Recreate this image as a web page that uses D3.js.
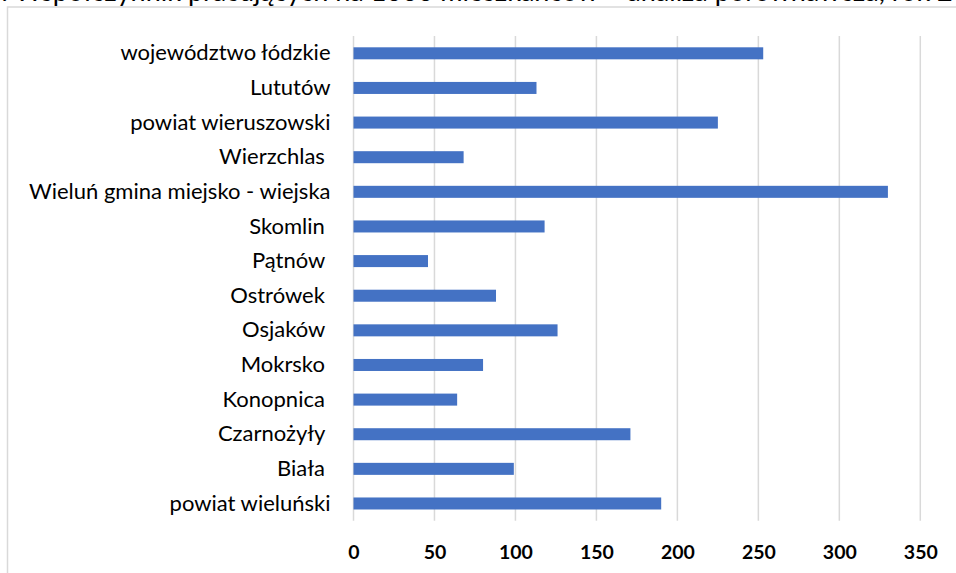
<!DOCTYPE html>
<html>
<head>
<meta charset="utf-8">
<script src="https://cdn.jsdelivr.net/npm/d3@7"></script>
<style>
  body { margin: 0; background: #fff; overflow: hidden; }
  text { font-family: Lato, "Open Sans", sans-serif; white-space: pre; }
</style>
</head>
<body>
<div class="chart"></div>
<script>
// categories top to bottom, trailing spaces kept as in the source
var categories = ["województwo łódzkie", "Lututów", "powiat wieruszowski", "Wierzchlas ",
  "Wieluń gmina miejsko - wiejska", "Skomlin ", "Pątnów ", "Ostrówek ", "Osjaków ",
  "Mokrsko ", "Konopnica ", "Czarnożyły ", "Biała ", "powiat wieluński"];
var values = [253, 113, 225, 68, 330, 118, 46, 88, 126, 80, 64, 171, 99, 190];
var ticks = [0, 50, 100, 150, 200, 250, 300, 350];
var titlePre = "Wykres 3: ";
var titleMain = "Współczynnik pracujących na 1000 mieszkańców – analiza porównawcza, rok 2019";

var w = 956, h = 573;

var svg = d3.select(".chart").append("svg")
            .attr("width", w)
            .attr("height", h);

// chart frame (runs off the right/bottom edge like the cropped original)
svg.append("rect")
   .attr("x", 7.5).attr("y", 7)
   .attr("width", 1000).attr("height", 1000)
   .attr("fill", "none")
   .attr("stroke", "#d9d9d9")
   .attr("stroke-width", 1.5);

// title, mostly cut off at the top of the picture
// size it so "Współczynnik" starts at ~15 and "rok" at ~893
var probe = svg.append("text").attr("font-size", 20).text("Współczynnik pracujących na 1000 mieszkańców – analiza porównawcza, ");
var spanW = probe.node().getComputedTextLength();
probe.text(titlePre);
var preW = probe.node().getComputedTextLength();
probe.remove();
var tSize = 20 * 878 / spanW;
svg.append("text")
   .attr("x", 15 - preW * tSize / 20)
   .attr("y", 0.5)
   .attr("font-size", tSize)
   .attr("fill", "#000")
   .text(titlePre + titleMain);

var x = d3.scaleLinear().domain([0, 350]).range([353.5, 920.3]);
var y = d3.scaleBand().domain(categories).range([36, 520.8]).paddingInner(0.653).paddingOuter(0.3265);

// gridlines
svg.append("g")
   .selectAll("line")
   .data(ticks)
   .join("line")
   .attr("x1", function(d){ return x(d); })
   .attr("x2", function(d){ return x(d); })
   .attr("y1", 36)
   .attr("y2", 520.8)
   .attr("stroke", "#d9d9d9")
   .attr("stroke-width", 1.5);

// bars
svg.append("g")
   .selectAll("rect")
   .data(values)
   .join("rect")
   .attr("x", x(0))
   .attr("y", function(d, i){ return y(categories[i]); })
   .attr("width", function(d){ return x(d) - x(0); })
   .attr("height", y.bandwidth())
   .attr("fill", "#4472c4");

// category labels
var yAxis = svg.append("g")
   .attr("transform", "translate(" + (x(0) - 23) + ",0)")
   .call(d3.axisLeft(y).tickSize(0).tickPadding(0));
yAxis.select(".domain").remove();
yAxis.selectAll("text")
   .attr("font-size", 22)
   .attr("fill", "#000")
   .style("font-family", "Lato, sans-serif");

// value axis labels
var xAxis = svg.append("g")
   .attr("transform", "translate(0,545)")
   .call(d3.axisBottom(x).tickValues(ticks).tickSize(0).tickPadding(0));
xAxis.select(".domain").remove();
xAxis.selectAll("text")
   .attr("font-size", 19.5)
   .attr("font-weight", "bold")
   .attr("fill", "#000")
   .style("font-family", "Lato, sans-serif");
</script>
</body>
</html>
